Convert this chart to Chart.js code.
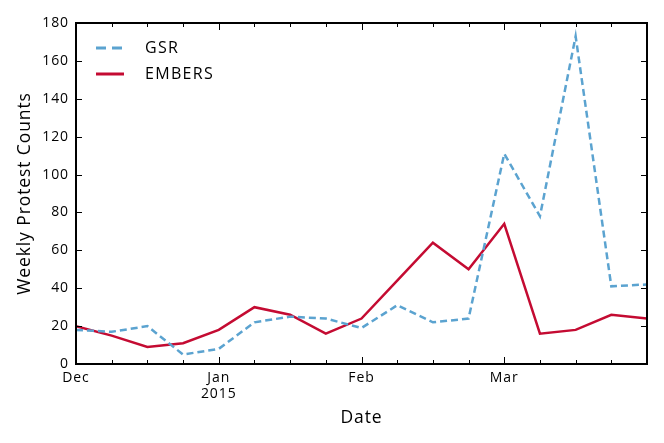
<!DOCTYPE html>
<html>
<head>
<meta charset="utf-8">
<script src="https://cdn.jsdelivr.net/npm/chart.js@4/dist/chart.umd.min.js"></script>
<style>
html,body{margin:0;padding:0;background:#fff;}
#wrap{width:664px;height:443px;position:relative;}
</style>
</head>
<body>
<div id="wrap"><canvas id="c" width="664" height="443"></canvas></div>
<script>
// weekly index 0..16, month labels at the first week of each month
const weekIndex = [0,1,2,3,4,5,6,7,8,9,10,11,12,13,14,15,16];
const monthTickLabels = {0: ['Dec'], 4: ['Jan', '2015'], 8: ['Feb'], 12: ['Mar']};
const gsrCounts = [18,17,20,5,8,22,25,24,19,31,22,24,111,78,173,41,42];
const embersCounts = [20,15,9,11,18,30,26,16,24,44,64,50,74,16,18,26,24];
const yTicks = [0,20,40,60,80,100,120,140,160,180];

const FONT = "'Open Sans', 'DejaVu Sans', sans-serif";
const BLUE = '#5ba3d0';
const RED = '#c40b32';

const spacing = {
  id: 'spacing',
  beforeDraw(chart) { chart.ctx.letterSpacing = '0.9px'; }
};

const frame = {
  id: 'frame',
  afterDatasetsDraw(chart) {
    const {ctx, chartArea: a, scales: {x, y}} = chart;
    ctx.save();
    ctx.strokeStyle = '#000';
    ctx.lineWidth = 1;
    // x ticks (inward, top and bottom)
    weekIndex.forEach(v => {
      const px = Math.round(x.getPixelForValue(v)) + 0.5;
      const len = (v in monthTickLabels) ? 7 : 4;
      ctx.beginPath();
      ctx.moveTo(px, a.bottom); ctx.lineTo(px, a.bottom - len);
      ctx.moveTo(px, a.top); ctx.lineTo(px, a.top + len);
      ctx.stroke();
    });
    yTicks.forEach(v => {
      const py = Math.round(y.getPixelForValue(v)) + 0.5;
      ctx.beginPath();
      ctx.moveTo(a.left, py); ctx.lineTo(a.left + 6, py);
      ctx.moveTo(a.right, py); ctx.lineTo(a.right - 6, py);
      ctx.stroke();
    });
    ctx.lineWidth = 2;
    ctx.strokeRect(a.left, a.top, a.right - a.left, a.bottom - a.top);
    // legend
    const items = [
      {label: 'GSR', color: BLUE, dash: [10, 6]},
      {label: 'EMBERS', color: RED, dash: []}
    ];
    ctx.font = '16px ' + FONT;
    ctx.letterSpacing = '1.3px';
    ctx.textBaseline = 'middle';
    items.forEach((it, i) => {
      const ly = a.top + 25 + i * 26;
      ctx.strokeStyle = it.color;
      ctx.lineWidth = 3;
      ctx.setLineDash(it.dash);
      ctx.beginPath();
      ctx.moveTo(a.left + 20, ly); ctx.lineTo(a.left + 48, ly);
      ctx.stroke();
      ctx.setLineDash([]);
      ctx.fillStyle = '#000';
      ctx.fillText(it.label, a.left + 69, ly);
    });
    ctx.restore();
  }
};

new Chart(document.getElementById('c'), {
  type: 'line',
  data: {
    labels: weekIndex,
    datasets: [
      {label: 'GSR', data: weekIndex.map((w, i) => ({x: w, y: gsrCounts[i]})),
       borderColor: BLUE, borderWidth: 2.5, borderDash: [7, 4], pointRadius: 0, tension: 0, fill: false},
      {label: 'EMBERS', data: weekIndex.map((w, i) => ({x: w, y: embersCounts[i]})),
       borderColor: RED, borderWidth: 2.5, pointRadius: 0, tension: 0, fill: false}
    ]
  },
  options: {
    responsive: false,
    animation: false,
    layout: {padding: {top: 23, right: 17, left: 0, bottom: 0}},
    plugins: {legend: {display: false}, tooltip: {enabled: false}},
    scales: {
      x: {
        type: 'linear', min: 0, max: 16,
        grid: {display: false, drawTicks: false},
        border: {display: false},
        afterBuildTicks(s) { s.ticks = Object.keys(monthTickLabels).map(k => ({value: +k})); },
        afterFit(s) { s.height = 79; },
        ticks: {
          autoSkip: false, maxRotation: 0, padding: 6,
          color: '#000', font: {family: FONT, size: 14, lineHeight: 1.15},
          callback: v => monthTickLabels[v] || ''
        },
        title: {display: true, text: 'Date', color: '#000', font: {family: FONT, size: 17.5, lineHeight: 1.2}, padding: {top: 4, bottom: 14.5}}
      },
      y: {
        min: 0, max: 180,
        grid: {display: false, drawTicks: false},
        border: {display: false},
        afterBuildTicks(s) { s.ticks = yTicks.map(v => ({value: v})); },
        afterFit(s) { s.width = 76; },
        ticks: {padding: 7, color: '#000', font: {family: FONT, size: 14}},
        title: {display: true, text: 'Weekly Protest Counts', color: '#000', font: {family: FONT, size: 17.5, lineHeight: 1.2}, padding: {top: 14.5, bottom: 0}}
      }
    }
  },
  plugins: [spacing, frame]
});
</script>
</body>
</html>
